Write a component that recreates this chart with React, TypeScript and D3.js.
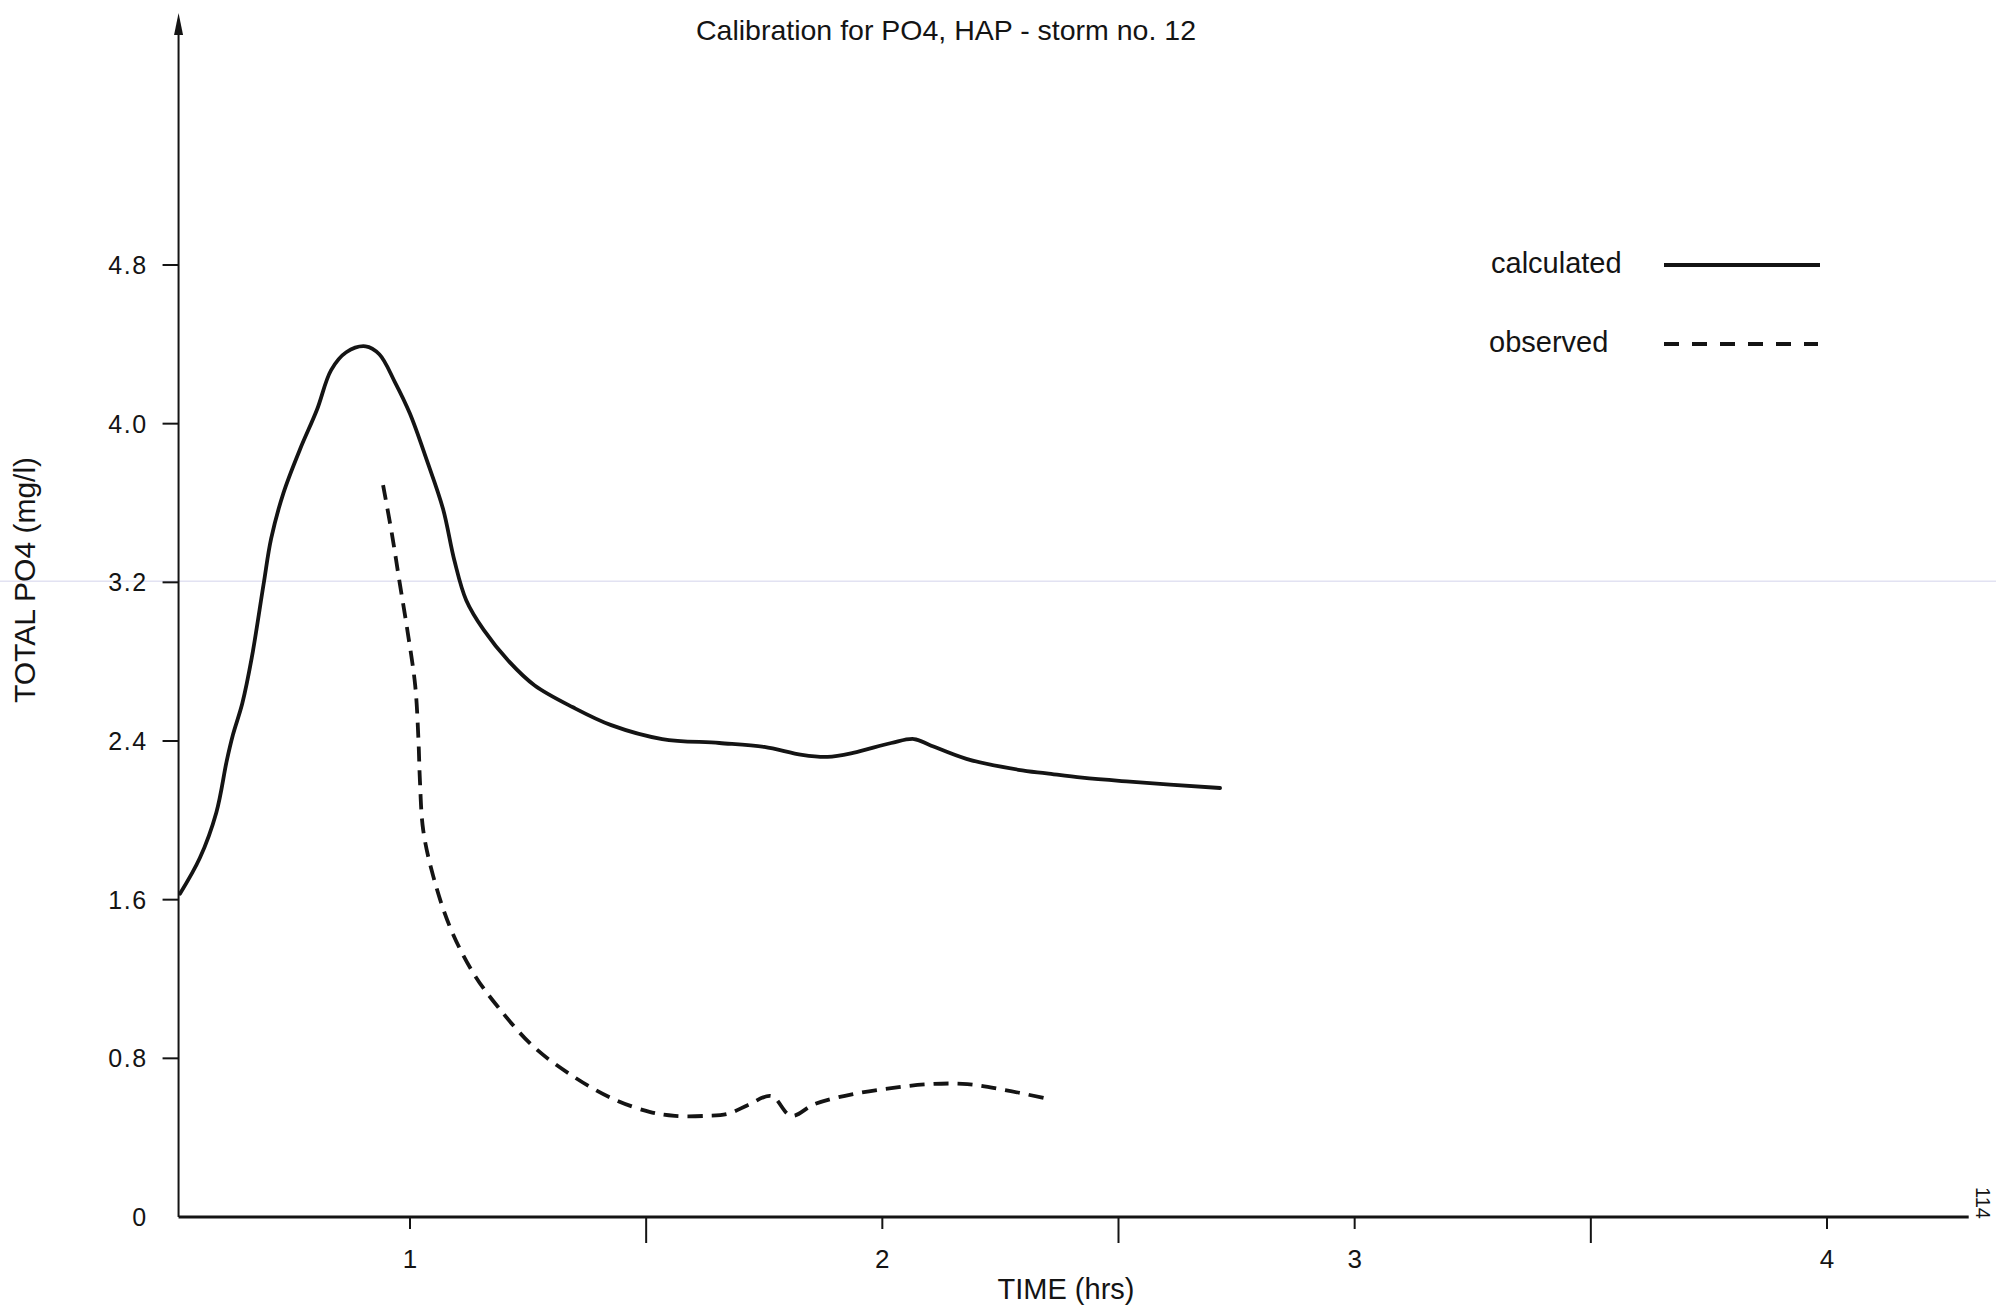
import React from "react";
import * as d3 from "d3";

// ---- Data ----
const calcTime = [0.513, 0.555, 0.59, 0.612, 0.625, 0.645, 0.665, 0.69, 0.706, 0.732, 0.767, 0.803, 0.833, 0.865, 0.906, 0.935, 0.968, 1.0, 1.035, 1.07, 1.094, 1.119, 1.156, 1.21, 1.264, 1.345, 1.426, 1.534, 1.655, 1.75, 1.83, 1.884, 1.938, 2.019, 2.067, 2.1, 2.178, 2.288, 2.348, 2.423, 2.524, 2.715];
const calcPO4 = [1.63, 1.81, 2.04, 2.3, 2.43, 2.59, 2.82, 3.19, 3.42, 3.65, 3.87, 4.07, 4.27, 4.36, 4.39, 4.35, 4.21, 4.05, 3.82, 3.57, 3.31, 3.11, 2.96, 2.8, 2.68, 2.57, 2.48, 2.41, 2.39, 2.37, 2.33, 2.32, 2.34, 2.39, 2.41, 2.38, 2.31, 2.255, 2.237, 2.215, 2.195, 2.163];

const obsTime = [0.943, 0.962, 0.978, 0.995, 1.011, 1.018, 1.021, 1.028, 1.049, 1.085, 1.134, 1.186, 1.261, 1.345, 1.426, 1.507, 1.561, 1.628, 1.673, 1.716, 1.765, 1.807, 1.857, 1.938, 2.019, 2.1, 2.18, 2.26, 2.342];
const obsPO4 = [3.69, 3.44, 3.2, 2.95, 2.68, 2.4, 2.2, 1.95, 1.72, 1.46, 1.23, 1.06, 0.86, 0.71, 0.6, 0.53, 0.51, 0.51, 0.52, 0.565, 0.61, 0.51, 0.57, 0.62, 0.65, 0.67, 0.67, 0.64, 0.6];

const yTicks = [0, 0.8, 1.6, 2.4, 3.2, 4.0, 4.8];
const yTickLabels = ["0", "0.8", "1.6", "2.4", "3.2", "4.0", "4.8"];
const xMajorTicks = [1, 2, 3, 4];
const xMajorLabels = ["1", "2", "3", "4"];
const xMinorTicks = [1.5, 2.5, 3.5];

const seriesNames = ["calculated", "observed"];

const title = "Calibration for PO4, HAP - storm no. 12";
const xTitle = "TIME (hrs)";
const yTitle = "TOTAL PO4 (mg/l)";
const pageNo = "114";

const X_MIN = 0.51;
const X_MAX = 4.3;
const Y_TOP = 6.07;

export default function App() {
  const W = 1996;
  const H = 1310;
  const x = d3.scaleLinear().domain([1, 4]).range([410, 1827]);
  const y = d3.scaleLinear().domain([0, 4.8]).range([1217, 265]);

  const line = d3
    .line<[number, number]>()
    .x((d) => x(d[0]))
    .y((d) => y(d[1]))
    .curve(d3.curveCatmullRom.alpha(0.5));

  const calcPts = calcTime.map((t, i) => [t, calcPO4[i]] as [number, number]);
  const obsPts = obsTime.map((t, i) => [t, obsPO4[i]] as [number, number]);

  const x0 = x(X_MIN);
  const x1 = x(X_MAX);
  const y0 = y(0);
  const yTop = y(Y_TOP);
  const font = "'Liberation Sans', Arial, Helvetica, sans-serif";
  const ink = "#141414";

  return (
    <svg
      width={W}
      height={H}
      viewBox={`0 0 ${W} ${H}`}
      style={{ position: "absolute", left: 0, top: 0, display: "block", background: "#ffffff" }}
    >
      <rect x={0} y={0} width={W} height={H} fill="#ffffff" />
      {/* faint scan line at 3.2 */}
      <line x1={0} x2={W} y1={y(3.2) - 1} y2={y(3.2) - 1} stroke="#e2e2f2" strokeWidth={1.5} />

      {/* title */}
      <text x={946} y={40} fontFamily={font} fontSize={28.5} textAnchor="middle" fill={ink}>
        {title}
      </text>

      {/* y axis */}
      <line x1={x0} x2={x0} y1={y0} y2={yTop + 12} stroke={ink} strokeWidth={2} />
      <path d={`M${x0},${yTop} L${x0 - 4.5},${yTop + 22} L${x0 + 4.5},${yTop + 22} Z`} fill={ink} />
      {yTicks.map((v, i) => (
        <g key={"yt" + i}>
          {v !== 0 && <line x1={x0 - 16} x2={x0} y1={y(v)} y2={y(v)} stroke={ink} strokeWidth={2} />}
          <text
            x={x0 - 31}
            y={y(v) + 9}
            fontFamily={font}
            fontSize={25}
            letterSpacing={1.5}
            textAnchor="end"
            fill={ink}
          >
            {yTickLabels[i]}
          </text>
        </g>
      ))}

      {/* x axis */}
      <line x1={x0} x2={x1} y1={y0} y2={y0} stroke={ink} strokeWidth={3} />
      {xMajorTicks.map((v, i) => (
        <g key={"xt" + i}>
          <line x1={x(v)} x2={x(v)} y1={y0} y2={y0 + 12} stroke={ink} strokeWidth={2} />
          <text x={x(v)} y={y0 + 51} fontFamily={font} fontSize={26} textAnchor="middle" fill={ink}>
            {xMajorLabels[i]}
          </text>
        </g>
      ))}
      {xMinorTicks.map((v, i) => (
        <line key={"xm" + i} x1={x(v)} x2={x(v)} y1={y0} y2={y0 + 26} stroke={ink} strokeWidth={2} />
      ))}

      {/* axis titles */}
      <text x={1066} y={1299} fontFamily={font} fontSize={29} textAnchor="middle" fill={ink}>
        {xTitle}
      </text>
      <text
        transform={`translate(35,580) rotate(-90)`}
        fontFamily={font}
        fontSize={30}
        textAnchor="middle"
        fill={ink}
      >
        {yTitle}
      </text>

      {/* series */}
      <path d={line(calcPts) || ""} fill="none" stroke={ink} strokeWidth={3.8} strokeLinejoin="round" strokeLinecap="round" />
      <path
        d={line(obsPts) || ""}
        fill="none"
        stroke={ink}
        strokeWidth={3.8}
        strokeDasharray="15 9"
        strokeLinejoin="round"
      />

      {/* legend */}
      <text x={1491} y={273} fontFamily={font} fontSize={29} fill={ink}>
        {seriesNames[0]}
      </text>
      <line x1={1664} x2={1820} y1={265} y2={265} stroke={ink} strokeWidth={4} />
      <text x={1489} y={352} fontFamily={font} fontSize={29} fill={ink}>
        {seriesNames[1]}
      </text>
      <line x1={1664} x2={1818} y1={344} y2={344} stroke={ink} strokeWidth={4} strokeDasharray="15 13" />

      {/* page number */}
      <text transform={`translate(1976,1203) rotate(90)`} fontFamily={font} fontSize={20} textAnchor="middle" fill={ink}>
        {pageNo}
      </text>
    </svg>
  );
}
